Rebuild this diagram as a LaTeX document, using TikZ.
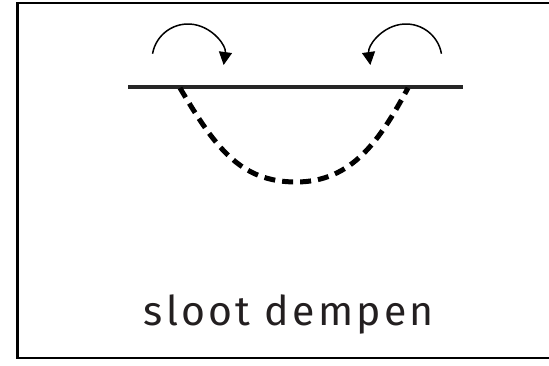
\documentclass[tikz,border=0pt]{standalone}
\usepackage{fontspec}
\setmainfont{Fira Sans}[LetterSpace=8]
\usetikzlibrary{arrows.meta,calc}
\begin{document}
\begin{tikzpicture}[x=1pt,y=1pt,
  frame/.style={draw=black,line width=2.4pt},
  ground/.style={draw=black!85,line width=4.8pt},
  ditch/.style={draw=black,line width=5pt,dash pattern=on 11pt off 7pt},
  turn/.style={draw=black,line width=1.5pt,-{Triangle[length=13pt,width=13pt]}},
  label/.style={font=\fontsize{41}{48}\selectfont\addfontfeatures{Color=231F20},inner sep=0pt,anchor=base}]
\useasboundingbox (0,0) rectangle (549,365);
\draw[frame] (17.5,7) rectangle (553,362);
\coordinate (gl) at (128,278);
\coordinate (gr) at (463,278);
\coordinate (ds) at (180,277);
\coordinate (db) at (296,183);
\coordinate (de) at (408,277);
\draw[ground] (gl) -- (gr);
\draw[ditch] (ds) .. controls (215,218) and (240,183) .. (db) .. controls (352,183) and (380,225) .. (de);
\coordinate (la) at ($(188,305)+(170:36)$);
\coordinate (ra) at ($(406,305)+(10:36)$);
\draw[turn] (la) arc[start angle=170,end angle=-8,radius=36];
\draw[turn] (ra) arc[start angle=10,end angle=188,radius=36];
\node[label] (t) at (289,40) {sloot dempen};
\end{tikzpicture}
\end{document}
